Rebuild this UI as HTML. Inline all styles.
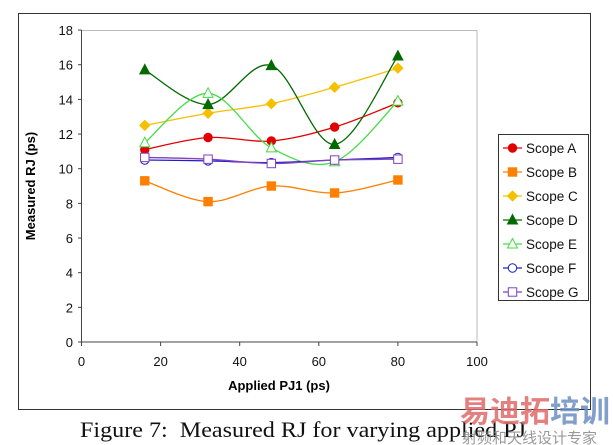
<!DOCTYPE html>
<html><head><meta charset="utf-8"><style>
body{margin:0;background:#fff;width:613px;height:445px;overflow:hidden;position:relative;font-family:"Liberation Sans",sans-serif}
</style></head><body>
<svg id="s" width="613" height="445" style="position:absolute;left:0;top:0" font-family="Liberation Sans, sans-serif">
<rect x="18.5" y="13.5" width="572" height="396" fill="#fff" stroke="#333" stroke-width="1"/>
<rect x="81.5" y="30.5" width="395.5" height="311.5" fill="none" stroke="#bbb" stroke-width="1"/>
<line x1="81.5" y1="30" x2="81.5" y2="342" stroke="#444"/>
<line x1="81" y1="342" x2="477" y2="342" stroke="#444"/>
<g id="ticks" font-size="13" fill="#111"></g>
<text x="35" y="186" font-size="13" font-weight="bold" transform="rotate(-90 35 186)" text-anchor="middle">Measured RJ (ps)</text>
<text x="279" y="390" font-size="13" font-weight="bold" text-anchor="middle">Applied PJ1 (ps)</text>
<g id="series"></g>
<rect x="498.5" y="134.5" width="90" height="166" fill="#fff" stroke="#333"/>
<g id="leg" font-size="13.5" fill="#111"></g>
<text x="80" y="437" font-family="Liberation Serif, serif" font-size="22" fill="#111" textLength="446" lengthAdjust="spacingAndGlyphs">Figure 7:&#160; Measured RJ for varying applied PJ</text>
<text x="460" y="422" font-family="Liberation Sans, Noto Sans CJK SC, sans-serif" font-size="30" font-weight="bold" fill="#e06a6a" opacity="0.85">易迪拓<tspan fill="#6d8fc4">培训</tspan></text>
<text x="462" y="443" font-family="Liberation Sans, Noto Sans CJK SC, sans-serif" font-size="15" fill="#888" opacity="0.85">射频和天线设计专家</text>
</svg>
<script>
var NS="http://www.w3.org/2000/svg";
function el(t,a,p){var e=document.createElementNS(NS,t);for(var k in a)e.setAttribute(k,a[k]);p.appendChild(e);return e;}
var X=function(v){return 81.5+v*3.955},Y=function(v){return 342-v*17.33};
var tk=document.getElementById('ticks');
for(var i=0;i<=18;i+=2){el('line',{x1:78,x2:81.5,y1:Y(i),y2:Y(i),stroke:'#444'},tk);var t=el('text',{x:73,y:Y(i)+5,'text-anchor':'end'},tk);t.textContent=i;}
for(var i=0;i<=100;i+=20){el('line',{x1:X(i),x2:X(i),y1:342,y2:346,stroke:'#444'},tk);var t=el('text',{x:X(i),y:366,'text-anchor':'middle'},tk);t.textContent=i;}
var xs=[16,32,48,64,80];
var S=[
["Scope A","#e00000","circ",true,[11.1,11.8,11.6,12.4,13.8]],
["Scope B","#ff7f00","sq",true,[9.3,8.1,9.0,8.6,9.35]],
["Scope C","#f5c000","dia",true,[12.5,13.2,13.75,14.7,15.8]],
["Scope D","#006a00","tri",true,[15.7,13.7,15.95,11.4,16.5]],
["Scope E","#44dd44","tri",false,[11.5,14.35,11.2,10.4,13.9]],
["Scope F","#2020c0","circ",false,[10.5,10.45,10.35,10.5,10.65]],
["Scope G","#8040c0","sq",false,[10.65,10.55,10.3,10.5,10.55]]];
function mk(type,x,y,c,fill,g){var f=fill?c:'#fff';
 if(type=='circ')el('circle',{cx:x,cy:y,r:4.2,fill:f,stroke:c,'stroke-width':1},g);
 else if(type=='sq')el('rect',{x:x-4.2,y:y-4.2,width:8.4,height:8.4,fill:f,stroke:c},g);
 else if(type=='dia')el('path',{d:'M'+x+' '+(y-5)+'L'+(x+5)+' '+y+'L'+x+' '+(y+5)+'L'+(x-5)+' '+y+'Z',fill:f,stroke:c},g);
 else el('path',{d:'M'+x+' '+(y-5.5)+'L'+(x+5)+' '+(y+4)+'L'+(x-5)+' '+(y+4)+'Z',fill:f,stroke:c},g);}
var sg=document.getElementById('series'),lg=document.getElementById('leg');
S.forEach(function(s,k){var p=xs.map(function(x,i){return [X(x),Y(s[4][i])]});
 var d='M'+p[0][0]+' '+p[0][1];
 for(var i=0;i<p.length-1;i++){var p0=p[i-1]||p[i],p1=p[i],p2=p[i+1],p3=p[i+2]||p2;
  d+='C'+(p1[0]+(p2[0]-p0[0])/6)+' '+(p1[1]+(p2[1]-p0[1])/6)+' '+(p2[0]-(p3[0]-p1[0])/6)+' '+(p2[1]-(p3[1]-p1[1])/6)+' '+p2[0]+' '+p2[1];}
 el('path',{d:d,fill:'none',stroke:s[1],'stroke-width':1.3},sg);
 p.forEach(function(q){mk(s[2],q[0],q[1],s[1],s[3],sg)});
 var ly=148+k*24;
 el('line',{x1:503,x2:522,y1:ly,y2:ly,stroke:s[1],'stroke-width':1.3},lg);
 mk(s[2],512.5,ly,s[1],s[3],lg);
 var t=el('text',{x:526,y:ly+5},lg);t.textContent=s[0];});
</script>
</body></html>
